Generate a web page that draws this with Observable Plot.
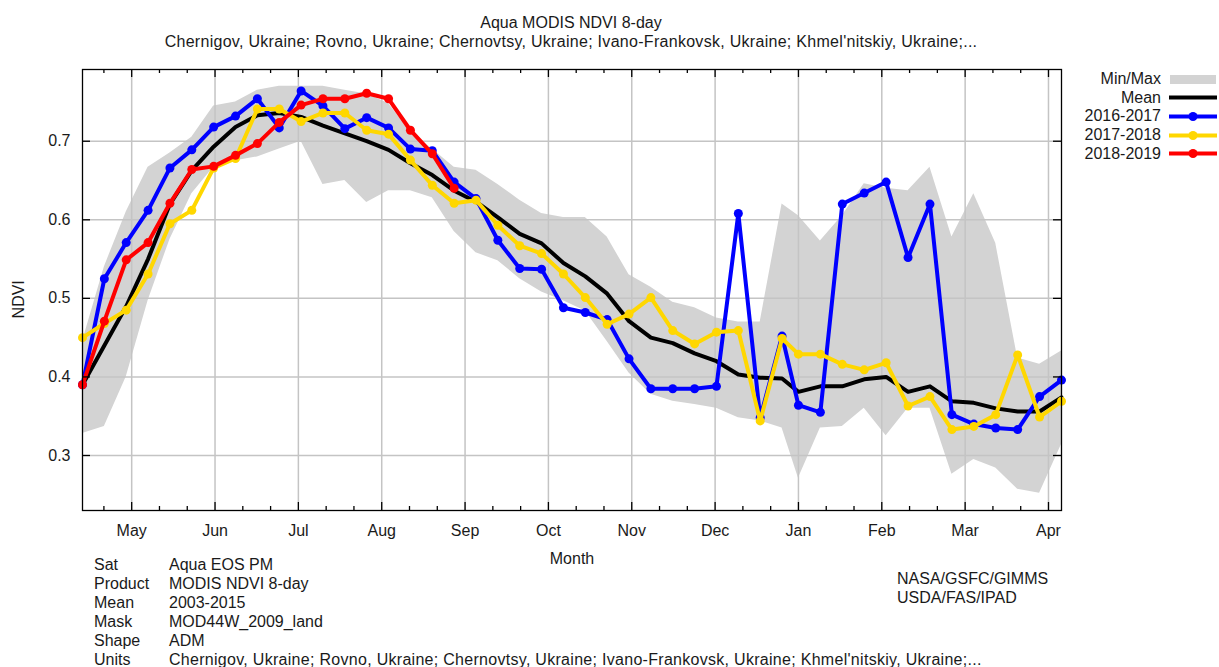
<!DOCTYPE html>
<html><head><meta charset="utf-8">
<script src="https://cdn.jsdelivr.net/npm/d3@7"></script>
<script src="https://cdn.jsdelivr.net/npm/@observablehq/plot@0.6"></script>
<style>
html,body{margin:0;padding:0;background:#fff;}
#wrap{position:relative;width:1219px;height:667px;font-family:"Liberation Sans",Arial,sans-serif;font-size:16px;color:#1a1a1a;overflow:hidden}
#wrap svg.plot{position:absolute;left:0;top:0}
.t{position:absolute;white-space:nowrap;line-height:19px}
.wide{letter-spacing:0.29px}
.leg{position:absolute;left:1040px;display:flex;align-items:center;height:19px}
.leg span{display:inline-block;width:121px;text-align:right;margin-right:8px}
#ylab{position:absolute;left:-32px;top:289.7px;width:100px;text-align:center;line-height:19px;transform:rotate(-90deg);transform-origin:50px 9.3px}
</style></head><body><div id="wrap"></div>
<script>
// 8-day composite start dates (season 2016-2017 calendar)
const dates = ["2016-04-14","2016-04-22","2016-04-30","2016-05-08","2016-05-16","2016-05-24","2016-06-01","2016-06-09","2016-06-17","2016-06-25",
"2016-07-03","2016-07-11","2016-07-19","2016-07-27","2016-08-04","2016-08-12","2016-08-20","2016-08-28","2016-09-05","2016-09-13",
"2016-09-21","2016-09-29","2016-10-07","2016-10-15","2016-10-23","2016-10-31","2016-11-08","2016-11-16","2016-11-24","2016-12-02",
"2016-12-10","2016-12-18","2016-12-26","2017-01-01","2017-01-09","2017-01-17","2017-01-25","2017-02-02","2017-02-10","2017-02-18",
"2017-02-26","2017-03-06","2017-03-14","2017-03-22","2017-03-30","2017-04-07"];

const minV = [0.328,0.337,0.400,0.497,0.575,0.633,0.667,0.675,0.680,0.690,0.700,0.645,0.650,0.622,0.637,0.637,0.628,0.585,0.558,0.548,
0.525,0.508,0.497,0.484,0.445,0.405,0.378,0.369,0.365,0.360,0.348,0.344,0.335,0.271,0.335,0.337,0.360,0.325,0.360,0.360,
0.276,0.295,0.284,0.257,0.252,0.314];
const maxV = [0.445,0.540,0.610,0.667,0.685,0.705,0.745,0.750,0.765,0.770,0.770,0.770,0.765,0.760,0.748,0.712,0.690,0.667,0.663,0.645,
0.625,0.608,0.603,0.603,0.578,0.530,0.514,0.495,0.488,0.475,0.470,0.470,0.620,0.605,0.573,0.605,0.646,0.640,0.637,0.667,
0.578,0.633,0.570,0.424,0.416,0.433];
const meanV = [0.390,0.440,0.490,0.550,0.620,0.663,0.693,0.718,0.733,0.736,0.731,0.720,0.710,0.700,0.689,0.672,0.657,0.637,0.623,0.603,
0.582,0.570,0.545,0.528,0.506,0.471,0.450,0.443,0.430,0.420,0.403,0.399,0.398,0.381,0.388,0.388,0.397,0.400,0.381,0.388,
0.369,0.367,0.360,0.356,0.356,0.374];
const s2016 = [0.390,0.525,0.571,0.612,0.666,0.689,0.718,0.732,0.754,0.717,0.764,0.745,0.716,0.730,0.717,0.690,0.688,0.648,0.627,0.574,
0.538,0.537,0.488,0.482,0.473,0.423,0.385,0.385,0.385,0.388,0.608,0.348,0.452,0.364,0.355,0.620,0.634,0.648,0.552,0.620,
0.352,0.340,0.335,0.333,0.375,0.396];
const s2017 = [0.450,0.468,0.485,0.531,0.595,0.612,0.666,0.678,0.741,0.741,0.725,0.736,0.736,0.714,0.709,0.676,0.644,0.621,0.625,0.593,
0.567,0.557,0.531,0.501,0.467,0.480,0.501,0.459,0.442,0.457,0.459,0.344,0.449,0.429,0.429,0.416,0.409,0.418,0.363,0.375,
0.333,0.337,0.352,0.428,0.349,0.369];
const s2018 = [0.390,0.471,0.549,0.571,0.621,0.664,0.668,0.682,0.697,0.724,0.746,0.754,0.754,0.761,0.754,0.714,0.684,0.640];

const monthLabels = ["May","Jun","Jul","Aug","Sep","Oct","Nov","Dec","Jan","Feb","Mar","Apr"];
const yTicks = [0.3,0.4,0.5,0.6,0.7];
const seriesNames = ["2016-2017","2017-2018","2018-2019"];
const seriesColors = ["#0000ff","#ffd700","#ff0000"];

// position along the season in months (each calendar month = equal width, as in the original)
function seasonMonth(s){
  const d = new Date(s + "T00:00:00Z"), y = d.getUTCFullYear();
  const y0 = Date.UTC(y,0,1), y1 = Date.UTC(y+1,0,1);
  return (y - 2016) * 12 + 12 * (d - y0) / (y1 - y0);
}
const xs = dates.map(seasonMonth);
const rows = dates.map((d,i) => ({x: xs[i], min: minV[i], max: maxV[i], mean: meanV[i]}));
const series = [s2016, s2017, s2018].map((arr, k) => arr.map((v,i) => ({x: xs[i], v, s: seriesNames[k]})));

const majorTicks = monthLabels.map((m,i) => 4 + i);
const minorTicks = d3.range(3, 16).flatMap(m => [m + 1/3, m + 2/3]).filter(v => v > xs[0] && v < xs[xs.length-1]);

const mT = 69, mB = 157, mL = 82, mR = 158, W = 1219, H = 667;
const innerH = H - mT - mB, innerW = W - mL - mR;

const lineMarks = series.flatMap((data, k) => [
  Plot.line(data, {x: "x", y: "v", stroke: seriesColors[k], strokeWidth: 4}),
  Plot.dot(data, {x: "x", y: "v", r: 4.5, fill: seriesColors[k]})
]);

const chart = Plot.plot({
  width: W, height: H, marginTop: mT, marginBottom: mB, marginLeft: mL, marginRight: mR,
  style: {fontFamily: "'Liberation Sans', Arial, sans-serif", fontSize: "16px", color: "#1a1a1a", background: "transparent"},
  x: {type: "linear", axis: null},
  y: {domain: [0.23, 0.7913], axis: null},
  marks: [
    Plot.areaY(rows, {x: "x", y1: "min", y2: "max", fill: "#d3d3d3"}),
    Plot.gridX(majorTicks, {stroke: "#c4c4c4", strokeOpacity: 1, strokeWidth: 1.5}),
    Plot.gridY(yTicks, {stroke: "#c4c4c4", strokeOpacity: 1, strokeWidth: 1.5}),
    Plot.line(rows, {x: "x", y: "mean", stroke: "#000", strokeWidth: 4}),
    ...lineMarks,
    Plot.frame({stroke: "#000", strokeWidth: 1.3}),
    Plot.tickX(majorTicks, {x: d => d, insetTop: innerH - 8, stroke: "#000", strokeWidth: 1.3}),
    Plot.tickX(majorTicks, {x: d => d, insetBottom: innerH - 8, stroke: "#000", strokeWidth: 1.3}),
    Plot.tickX(minorTicks, {x: d => d, insetTop: innerH - 4, stroke: "#000", strokeWidth: 1.3}),
    Plot.tickX(minorTicks, {x: d => d, insetBottom: innerH - 4, stroke: "#000", strokeWidth: 1.3}),
    Plot.tickY(yTicks, {y: d => d, insetRight: innerW - 8, stroke: "#000", strokeWidth: 1.3}),
    Plot.tickY(yTicks, {y: d => d, insetLeft: innerW - 8, stroke: "#000", strokeWidth: 1.3}),
    Plot.text(majorTicks, {x: d => d, frameAnchor: "bottom", dy: 25, text: (d,i) => monthLabels[i], fill: "#1a1a1a"}),
    Plot.text(yTicks, {y: d => d, frameAnchor: "left", dx: -12, textAnchor: "end", text: d => d.toFixed(1), fill: "#1a1a1a"}),
    Plot.text(["Month"], {frameAnchor: "bottom", dy: 53, fill: "#1a1a1a"})
  ]
});
chart.classList.add("plot");
const wrap = document.getElementById("wrap");
wrap.appendChild(chart);

const ylab = document.createElement("div");
ylab.id = "ylab";
ylab.textContent = "NDVI";
wrap.appendChild(ylab);

function addText(txt, left, centerY, opts = {}) {
  const el = document.createElement("div");
  el.className = "t" + (opts.wide ? " wide" : "");
  el.textContent = txt;
  el.style.top = (centerY - 9.3) + "px";
  if (opts.center) { el.style.left = (left - 600) + "px"; el.style.width = "1200px"; el.style.textAlign = "center"; }
  else el.style.left = left + "px";
  wrap.appendChild(el);
}
const title = "Aqua MODIS NDVI 8-day";
const subtitle = "Chernigov, Ukraine; Rovno, Ukraine; Chernovtsy, Ukraine; Ivano-Frankovsk, Ukraine; Khmel'nitskiy, Ukraine;...";
addText(title, 571, 22, {center: true});
addText(subtitle, 571, 41, {center: true, wide: true});

// legend
const legendItems = [
  {label: "Min/Max", kind: "band", color: "#d3d3d3"},
  {label: "Mean", kind: "line", color: "#000"},
  ...seriesNames.map((n,k) => ({label: n, kind: "dot", color: seriesColors[k]}))
];
legendItems.forEach((it, k) => {
  const row = document.createElement("div");
  row.className = "leg";
  row.style.top = (79 + 18.7 * k - 9.5) + "px";
  const sp = document.createElement("span");
  sp.textContent = it.label;
  row.appendChild(sp);
  const ns = "http://www.w3.org/2000/svg";
  const svg = document.createElementNS(ns, "svg");
  svg.setAttribute("width", 48); svg.setAttribute("height", 19);
  if (it.kind === "band") {
    const r = document.createElementNS(ns, "rect");
    r.setAttribute("x", 1); r.setAttribute("y", 5); r.setAttribute("width", 46); r.setAttribute("height", 9); r.setAttribute("fill", it.color);
    svg.appendChild(r);
  } else {
    const l = document.createElementNS(ns, "line");
    l.setAttribute("x1", 0); l.setAttribute("x2", 48); l.setAttribute("y1", 9.5); l.setAttribute("y2", 9.5);
    l.setAttribute("stroke", it.color); l.setAttribute("stroke-width", 4);
    svg.appendChild(l);
    if (it.kind === "dot") {
      const c = document.createElementNS(ns, "circle");
      c.setAttribute("cx", 24); c.setAttribute("cy", 9.5); c.setAttribute("r", 4.5); c.setAttribute("fill", it.color);
      svg.appendChild(c);
    }
  }
  row.appendChild(svg);
  wrap.appendChild(row);
});

// metadata block
const metaKeys = ["Sat","Product","Mean","Mask","Shape","Units"];
const metaVals = ["Aqua EOS PM","MODIS NDVI 8-day","2003-2015","MOD44W_2009_land","ADM", "Chernigov, Ukraine; Rovno, Ukraine; Chernovtsy, Ukraine; Ivano-Frankovsk, Ukraine; Khmel'nitskiy, Ukraine;..."];
metaKeys.forEach((k,i) => { addText(k, 94, 564 + 19 * i); addText(metaVals[i], 169, 564 + 19 * i, {wide: i === 5}); });
const credits = ["NASA/GSFC/GIMMS","USDA/FAS/IPAD"];
credits.forEach((c,i) => addText(c, 897, 578 + 19 * i));
</script>
</body></html>
